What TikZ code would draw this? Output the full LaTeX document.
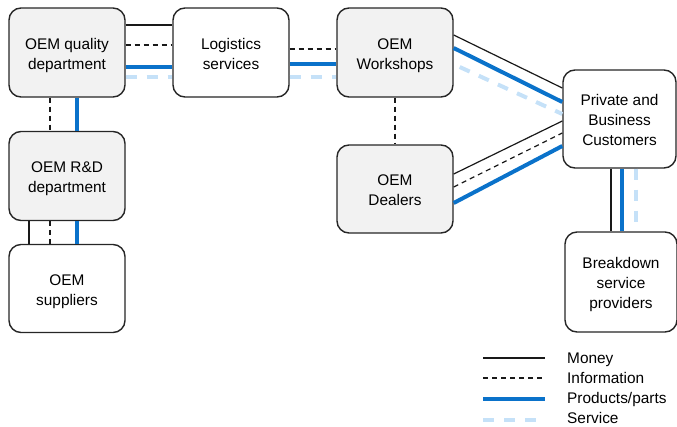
\documentclass[tikz,border=0pt]{standalone}
\usepackage{fontspec}
\setmainfont{Liberation Sans}
\definecolor{boxgray}{HTML}{F2F2F2}
\definecolor{edgegray}{HTML}{262626}
\definecolor{prodblue}{HTML}{0A72CA}
\definecolor{servblue}{HTML}{C5E1F8}
\begin{document}
\begin{tikzpicture}[x=1pt,y=-1pt,
  box/.style={draw=edgegray,line width=1.4pt,rounded corners=12pt,fill=white,
    minimum width=116pt,minimum height=89pt,align=center,inner sep=2pt,
    font=\fontsize{15.4}{20}\selectfont,text height=37pt,text depth=4pt},
  threeline/.style={text height=56pt},
  graybox/.style={box,fill=boxgray},
  money/.style={draw=black!90,line width=1.2pt},
  info/.style={draw=black!90,line width=1.2pt,dash pattern=on 5pt off 4pt},
  prod/.style={draw=prodblue,line width=4pt},
  serv/.style={draw=servblue,line width=4pt,dash pattern=on 11pt off 10pt},
  legtext/.style={anchor=base west,inner sep=0pt,font=\fontsize{15.4}{20}\selectfont}]
\useasboundingbox (0,0) rectangle (677,426);
% nodes
\node[graybox] (q) at (67,52.5) {OEM quality\\department};
\node[box] (l) at (231,52.5) {Logistics\\services};
\node[graybox] (w) at (395,52.5) {OEM\\Workshops};
\node[graybox] (rd) at (67,176) {OEM R\&D\\department};
\node[box,minimum height=88pt] (s) at (67,288.5) {OEM\\suppliers};
\node[graybox,minimum height=88pt] (d) at (395,189) {OEM\\Dealers};
\node[box,threeline,minimum width=113pt,minimum height=98pt] (c) at (619.5,119) {Private and\\Business\\Customers};
\node[box,threeline,minimum width=112pt,minimum height=100pt] (b) at (621,282) {Breakdown\\service\\providers};
% quality - logistics
\draw[money] (q.east |- 0,25) -- (l.west |- 0,25);
\draw[info] (q.east |- 0,45) -- (l.west |- 0,45);
\draw[prod] (q.east |- 0,67) -- (l.west |- 0,67);
\draw[serv] (q.east |- 0,77) -- (l.west |- 0,77);
% logistics - workshops
\draw[info] (l.east |- 0,49) -- (w.west |- 0,49);
\draw[prod] (l.east |- 0,64) -- (w.west |- 0,64);
\draw[serv] (l.east |- 0,77) -- (w.west |- 0,77);
% quality - R&D
\draw[info] (q.south -| 50,0) -- (rd.north -| 50,0);
\draw[prod] (q.south -| 77,0) -- (rd.north -| 77,0);
% R&D - suppliers
\draw[money] (rd.south -| 29,0) -- (s.north -| 29,0);
\draw[info] (rd.south -| 50,0) -- (s.north -| 50,0);
\draw[prod] (rd.south -| 77,0) -- (s.north -| 77,0);
% workshops - dealers
\draw[info] (w.south) -- (d.north);
% workshops - customers
\draw[money] (w.east |- 0,35) -- (c.west |- 0,88);
\draw[prod] (w.east |- 0,48) -- (c.west |- 0,102);
\draw[serv] ([xshift=6pt]w.east |- 0,67) -- (c.west |- 0,114);
% dealers - customers
\draw[money] (d.east |- 0,174) -- (c.west |- 0,121);
\draw[info] (d.east |- 0,187) -- (c.west |- 0,133);
\draw[prod] (d.east |- 0,203) -- (c.west |- 0,146);
% customers - breakdown
\draw[money] (c.south -| 611,0) -- (b.north -| 611,0);
\draw[prod] (c.south -| 622,0) -- (b.north -| 622,0);
\draw[serv] (c.south -| 636,0) -- (b.north -| 636,0);
% legend
\coordinate (m1) at (483,358); \coordinate (m2) at (545,358);
\coordinate (i1) at (483,378); \coordinate (i2) at (545,378);
\coordinate (p1) at (483,399); \coordinate (p2) at (545,399);
\coordinate (s1) at (483,420); \coordinate (s2) at (545,420);
\draw[money] (m1) -- (m2);
\draw[info] (i1) -- (i2);
\draw[prod] (p1) -- (p2);
\draw[serv] (s1) -- (s2);
\node[legtext] (tm) at (567,363) {Money};
\node[legtext] (ti) at (567,383) {Information};
\node[legtext] (tp) at (567,403) {Products/parts};
\node[legtext] (ts) at (567,423) {Service};
\end{tikzpicture}
\end{document}
